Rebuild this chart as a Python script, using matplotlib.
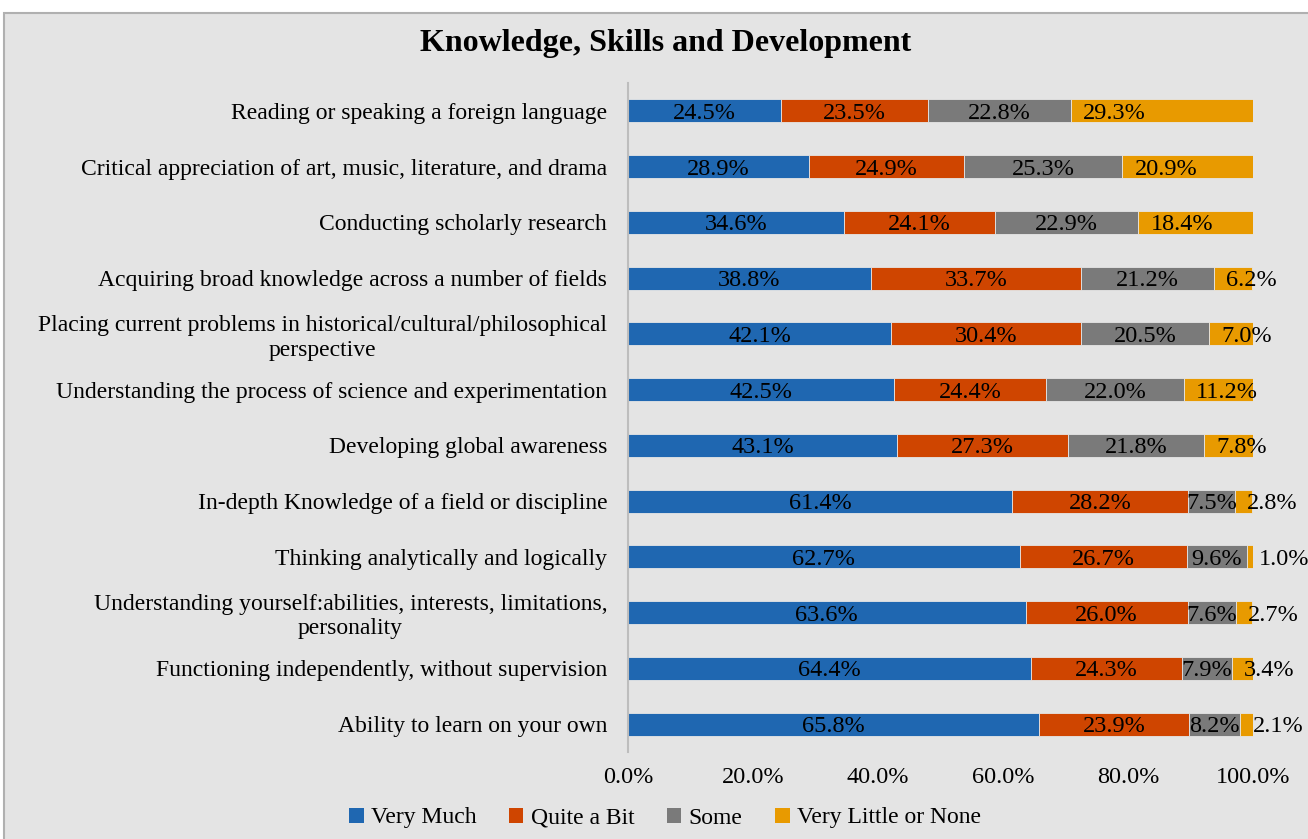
import matplotlib.pyplot as plt
from matplotlib.patches import Rectangle, Patch

plt.rcParams['font.family'] = ['Liberation Serif', 'DejaVu Serif']

# Survey items (top to bottom)
categories = [
    'Reading or speaking a foreign language',
    'Critical appreciation of art, music, literature, and drama',
    'Conducting scholarly research',
    'Acquiring broad knowledge across a number of fields',
    'Placing current problems in historical/cultural/philosophical\nperspective',
    'Understanding the process of science and experimentation',
    'Developing global awareness',
    'In-depth Knowledge of a field or discipline',
    'Thinking analytically and logically',
    'Understanding yourself:abilities, interests, limitations,\npersonality',
    'Functioning independently, without supervision',
    'Ability to learn on your own',
]
very_much = [24.5, 28.9, 34.6, 38.8, 42.1, 42.5, 43.1, 61.4, 62.7, 63.6, 64.4, 65.8]
quite_a_bit = [23.5, 24.9, 24.1, 33.7, 30.4, 24.4, 27.3, 28.2, 26.7, 26.0, 24.3, 23.9]
some = [22.8, 25.3, 22.9, 21.2, 20.5, 22.0, 21.8, 7.5, 9.6, 7.6, 7.9, 8.2]
very_little = [29.3, 20.9, 18.4, 6.2, 7.0, 11.2, 7.8, 2.8, 1.0, 2.7, 3.4, 2.1]

series = ['Very Much', 'Quite a Bit', 'Some', 'Very Little or None']
values = [very_much, quite_a_bit, some, very_little]
colors = ['#1f67b1', '#cf4500', '#7a7a7a', '#e89a00']
xticks = [0, 20, 40, 60, 80, 100]

W, H = 1308, 839
fig = plt.figure(figsize=(W / 100, H / 100), dpi=100)
fig.patch.set_facecolor('white')
# chart area background with border on top/left
fig.patches.append(Rectangle((4 / W, -0.05), 1.1, 1 - 13 / H + 0.05,
                             transform=fig.transFigure, facecolor='#e4e4e4',
                             edgecolor='#b0b0b0', linewidth=1.5, zorder=-10))

ax = fig.add_axes([628 / W, 1 - 752 / H, 625 / W, (752 - 83) / H])
ax.set_facecolor('none')

y = list(range(len(categories)))
left = [0.0] * len(categories)
for name, vals, col in zip(series, values, colors):
    ax.barh(y, vals, left=left, height=0.41, color=col, label=name,
            edgecolor='#e6e6e6', linewidth=0.6)
    for i, v in enumerate(vals):
        if name == 'Very Little or None':
            ax.text(left[i] + 2.0, i, f'{v:.1f}%', ha='left', va='center_baseline',
                    fontsize=17.5, color='black', clip_on=False)
        else:
            ax.text(left[i] + v / 2, i, f'{v:.1f}%', ha='center', va='center_baseline',
                    fontsize=17.5, color='black')
    left = [l + v for l, v in zip(left, vals)]

ax.set_ylim(len(categories) - 0.5, -0.5)
ax.set_xlim(0, 100)
ax.set_yticks(y)
ax.set_yticklabels(categories, fontsize=17)
for lbl in ax.get_yticklabels():
    lbl.set_multialignment('center')
ax.set_xticks(xticks)
ax.set_xticklabels([f'{t:.1f}%' for t in xticks], fontsize=17.5)
ax.tick_params(axis='y', length=0, pad=15)
ax.tick_params(axis='x', length=0, pad=11)
for s in ['top', 'right', 'bottom']:
    ax.spines[s].set_visible(False)
ax.spines['left'].set_color('#bdbdbd')
ax.spines['left'].set_linewidth(1.5)

fig.text(666 / W, 1 - 44 / H, 'Knowledge, Skills and Development',
         ha='center', va='center', fontsize=23, fontweight='bold')

handles = [Patch(facecolor=c, label=n) for n, c in zip(series, colors)]
fig.legend(handles=handles, loc='center', bbox_to_anchor=(665 / W, 1 - 818 / H),
           ncol=4, frameon=False, fontsize=17, handlelength=0.6, handleheight=0.6,
           handletextpad=0.3, columnspacing=1.4)

fig.savefig('out.png', dpi=100)
